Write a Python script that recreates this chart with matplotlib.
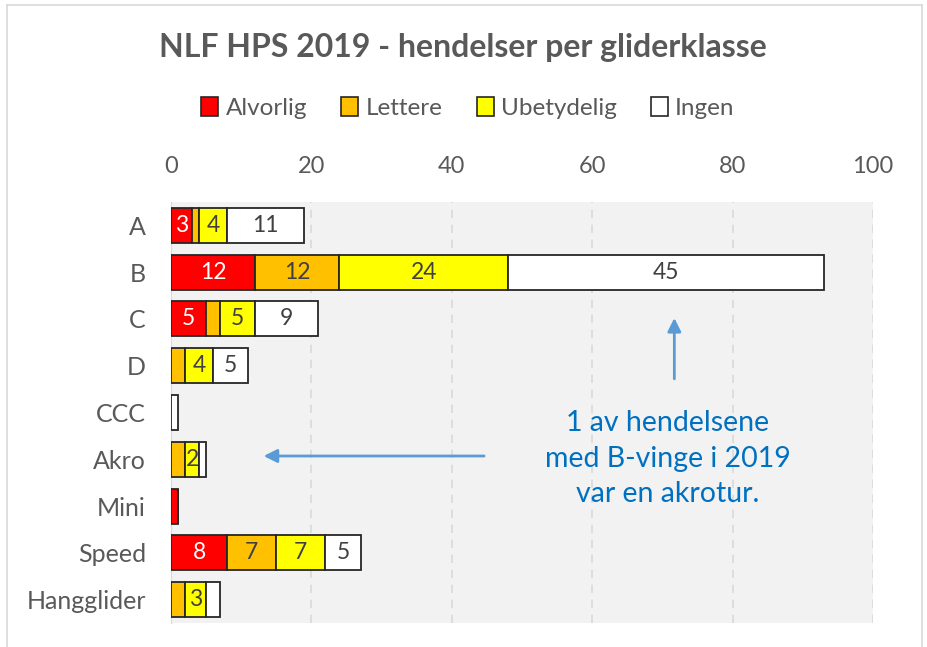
import numpy as np
import matplotlib
matplotlib.use('Agg')
import matplotlib.pyplot as plt
from matplotlib.patches import Patch
from matplotlib.lines import Line2D

# data
klasser = ['A', 'B', 'C', 'D', 'CCC', 'Akro', 'Mini', 'Speed', 'Hangglider']
alvorlig   = [3, 12, 5, 0, 0, 0, 1, 8, 0]
lettere    = [1, 12, 2, 2, 0, 2, 0, 7, 2]
ubetydelig = [4, 24, 5, 4, 0, 2, 0, 7, 3]
ingen      = [11, 45, 9, 5, 1, 1, 0, 5, 2]
serier = ['Alvorlig', 'Lettere', 'Ubetydelig', 'Ingen']
xticks = [0, 20, 40, 60, 80, 100]

farger = ['#FF0000', '#FFC000', '#FFFF00', '#FFFFFF']
tekstfarge = ['#FFFFFF', '#404040', '#404040', '#404040']

plt.rcParams['font.family'] = ['Lato', 'DejaVu Sans']

fig = plt.figure(figsize=(9.28, 6.47), dpi=100)
ax = fig.add_axes([171/928, 1-623/647, 702/928, 421/647])
ax.set_facecolor('#F2F2F2')

y = np.arange(len(klasser))
left = np.zeros(len(klasser))
for k, (navn, verdier) in enumerate(zip(serier, [alvorlig, lettere, ubetydelig, ingen])):
    v = np.array(verdier, dtype=float)
    ax.barh(y, v, left=left, height=0.75, color=farger[k], edgecolor='#262626',
            linewidth=1.3, zorder=3, label=navn)
    for i in range(len(klasser)):
        vis = v[i] >= 3 or (klasser[i] == 'Akro' and navn == 'Ubetydelig')
        if v[i] > 0 and vis:
            ax.text(left[i] + v[i]/2, y[i], '%d' % v[i], ha='center', va='center',
                    fontsize=16.5, color=tekstfarge[k], zorder=4)
    left += v

ax.set_xlim(0, 100)
ax.set_ylim(len(klasser) - 0.5, -0.5)
ax.set_yticks(y)
ax.set_yticklabels(klasser)
ax.set_xticks(xticks)
ax.xaxis.tick_top()
ax.tick_params(axis='both', length=0, labelsize=17, colors='#595959')
ax.tick_params(axis='y', labelsize=18, pad=18)
ax.tick_params(axis='x', pad=18)
for g in xticks[1:]:
    ax.axvline(g, color='#D9D9D9', lw=1.2, ls=(0, (5, 4)), zorder=1)
for s in ['top', 'right', 'bottom']:
    ax.spines[s].set_visible(False)
ax.spines['left'].set_color('#D9D9D9')

fig.text(463/928, 1-48/647, 'NLF HPS 2019 - hendelser per gliderklasse',
         ha='center', va='center', fontsize=23, fontweight='bold', color='#595959')

handles = [Patch(facecolor=farger[k], edgecolor='#262626', linewidth=1.2, label=serier[k])
           for k in range(4)]
fig.legend(handles=handles, loc='center', bbox_to_anchor=(468/928, 1-108/647), ncol=4,
           frameon=False, fontsize=17.5, handlelength=0.7, handleheight=0.8,
           handletextpad=0.3, columnspacing=1.4, labelcolor='#595959')

# kommentar
pil = dict(arrowstyle='-|>', color='#5B9BD5', lw=2, mutation_scale=20)
ax.annotate('', xy=(71.7, 1.92), xytext=(71.7, 3.34), arrowprops=pil, zorder=5)
ax.annotate('', xy=(12.8, 4.93), xytext=(45.0, 4.93), arrowprops=pil, zorder=5)
ax.text(70.8, 4.99, '1 av hendelsene\nmed B-vinge i 2019\nvar en akrotur.',
        ha='center', va='center', fontsize=20.5, color='#0070C0', linespacing=1.45, zorder=5)

# ramme
for xs, ys in [([7, 7], [0, 642]), ([922, 922], [0, 642]), ([7, 922], [642, 642])]:
    fig.add_artist(Line2D([x/928 for x in xs], [yy/647 for yy in ys],
                          color='#D9D9D9', lw=1.2))

fig.savefig('out.png', dpi=100)
